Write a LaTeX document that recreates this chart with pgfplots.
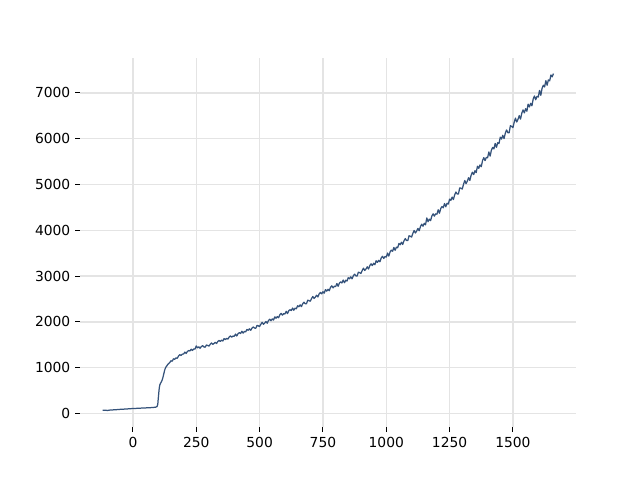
\documentclass[border=0pt]{standalone}
\usepackage{fontspec}
\setmainfont{DejaVu Sans}
\usepackage{pgfplots}
\pgfplotsset{compat=1.18}
\definecolor{linec}{RGB}{52,82,122}
\definecolor{gridc}{RGB}{228,228,228}
\begin{document}
\begin{tikzpicture}
\begin{axis}[
  scale only axis,
  width=4.96in, height=3.696in,
  xmin=-209, xmax=1749, ymin=-300, ymax=7770,
  axis line style={draw=none},
  tick align=outside,
  major tick length=3.5pt,
  every tick/.style={draw=black, line width=0.8pt},
  xtick={0,250,500,750,1000,1250,1500},
  ytick={0,1000,2000,3000,4000,5000,6000,7000},
  xtick pos=bottom, ytick pos=left,
  grid=major,
  major grid style={draw=gridc, line width=1pt},
  scaled ticks=false,
  /pgf/number format/assume math mode=true,
  /pgf/number format/1000 sep={},
  tick label style={font=\fontsize{10}{12}\selectfont},
]
\addplot[linec, line width=0.9pt, line join=round] coordinates {
(-120,68)(-110,70)(-100,66)(-90,75)(-80,78)(-70,80)(-60,86)(-50,90)(-40,92)(-30,97)
(-20,100)(-10,104)(0,108)(10,110)(20,113)(30,116)(40,119)(50,121)(60,125)(70,127)
(80,131)(90,138)(95,150)(98,200)(100,330)(102,450)(104,560)(106,620)(108,650)(110,670)
(113,700)(116,740)(119,800)(122,870)(125,940)(128,990)(131,1020)(134,1040)(137,1070)(140,1085)
(145,1110)
(150,1150)(155,1141)(160,1194)(165,1183)(170,1214)(175,1205)(180,1256)(185,1283)(190,1266)(195,1295)
(200,1298)(205,1340)(210,1310)(215,1354)(220,1374)(225,1364)(230,1404)(235,1376)(240,1410)(245,1404)
(250,1475)(255,1432)(260,1455)(265,1424)(270,1461)(275,1480)(280,1453)(285,1446)(290,1496)(295,1484)
(300,1470)(305,1509)(310,1539)(315,1509)(320,1528)(325,1555)(330,1528)(335,1571)(340,1594)(345,1571)
(350,1601)(355,1583)(360,1634)(365,1614)(370,1641)(375,1623)(380,1671)(385,1693)(390,1667)(395,1691)
(400,1685)(405,1733)(410,1692)(415,1743)(420,1764)(425,1747)(430,1794)(435,1755)(440,1793)(445,1781)
(450,1835)(455,1816)(460,1848)(465,1816)(470,1864)(475,1889)(480,1864)(485,1860)(490,1922)(495,1913)
(500,1898)(505,1949)(510,1989)(515,1947)(520,1972)(525,2008)(530,1970)(535,2027)(540,2058)(545,2025)
(550,2065)(555,2040)(560,2108)(565,2080)(570,2115)(575,2090)(580,2155)(585,2184)(590,2147)(595,2179)
(600,2172)(605,2230)(610,2180)(615,2241)(620,2266)(625,2246)(630,2301)(635,2254)(640,2300)(645,2286)
(650,2352)(655,2330)(660,2371)(665,2333)(670,2394)(675,2429)(680,2397)(685,2394)(690,2474)(695,2464)
(700,2451)(705,2509)(710,2554)(715,2512)(720,2541)(725,2582)(730,2544)(735,2608)(740,2643)(745,2611)
(750,2658)(755,2627)(760,2705)(765,2671)(770,2711)(775,2680)(780,2755)(785,2787)(790,2742)(795,2779)
(800,2769)(805,2836)(810,2776)(815,2846)(820,2874)(825,2849)(830,2913)(835,2856)(840,2909)(845,2891)
(850,2965)(855,2939)(860,2983)(865,2939)(870,3005)(875,3042)(880,3005)(885,3000)(890,3086)(895,3074)
(900,3056)(905,3122)(910,3173)(915,3122)(920,3154)(925,3202)(930,3154)(935,3228)(940,3268)(945,3228)
(950,3279)(955,3248)(960,3334)(965,3299)(970,3343)(975,3312)(980,3395)(985,3432)(990,3385)(995,3426)
(1000,3415)(1005,3501)(1010,3436)(1015,3526)(1020,3566)(1025,3542)(1030,3624)(1035,3563)(1040,3632)(1045,3618)
(1050,3712)(1055,3684)(1060,3739)(1065,3690)(1070,3771)(1075,3818)(1080,3777)(1085,3774)(1090,3880)(1095,3868)
(1100,3850)(1105,3932)(1110,3996)(1115,3940)(1120,3982)(1125,4041)(1130,3989)(1135,4080)(1140,4132)(1145,4088)
(1150,4152)(1155,4119)(1160,4270)(1165,4187)(1170,4243)(1175,4210)(1180,4311)(1185,4359)(1190,4308)(1195,4359)
(1200,4351)(1205,4448)(1210,4372)(1215,4474)(1220,4518)(1225,4491)(1230,4583)(1235,4512)(1240,4590)(1245,4571)
(1250,4680)(1255,4652)(1260,4724)(1265,4671)(1270,4773)(1275,4835)(1280,4792)(1285,4794)(1290,4926)(1295,4918)
(1300,4900)(1305,5004)(1310,5086)(1315,5018)(1320,5072)(1325,5149)(1330,5087)(1335,5202)(1340,5267)(1345,5216)
(1350,5299)(1355,5259)(1360,5398)(1365,5352)(1370,5427)(1375,5387)(1380,5521)(1385,5585)(1390,5521)(1395,5591)
(1400,5584)(1405,5709)(1410,5618)(1415,5749)(1420,5808)(1425,5777)(1430,5896)(1435,5811)(1440,5912)(1445,5893)
(1450,6032)(1455,5991)(1460,6073)(1465,6001)(1470,6121)(1475,6191)(1480,6131)(1485,6127)(1490,6284)(1495,6267)
(1500,6242)(1505,6358)(1510,6449)(1515,6364)(1520,6422)(1525,6505)(1530,6427)(1535,6556)(1540,6628)(1545,6562)
(1550,6654)(1555,6599)(1560,6754)(1565,6692)(1570,6772)(1575,6717)(1580,6866)(1585,6933)(1590,6850)(1595,6924)
(1600,6908)(1605,7053)(1610,6946)(1615,7098)(1620,7166)(1625,7129)(1630,7267)(1635,7167)(1640,7284)(1645,7261)
(1650,7390)(1655,7350)(1660,7420)
};
\end{axis}
\path (current axis.south west) ++(-0.8in,-0.528in) rectangle ++(6.4in,4.8in);
\end{tikzpicture}
\end{document}
